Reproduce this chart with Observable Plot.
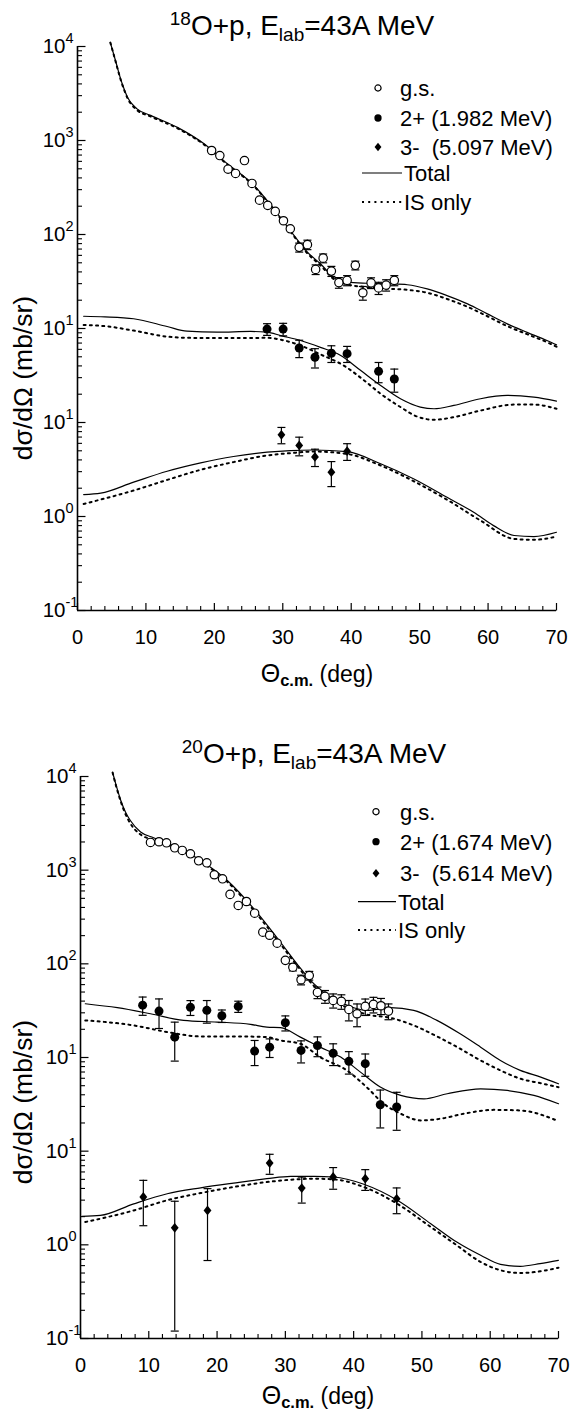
<!DOCTYPE html>
<html>
<head>
<meta charset="utf-8">
<script src="https://cdn.jsdelivr.net/npm/d3@7"></script>
<script src="https://cdn.jsdelivr.net/npm/@observablehq/plot@0.6"></script>
<style>
  html, body { margin: 0; padding: 0; background: #fff; }
  #root { position: relative; width: 570px; height: 1418px; }
  #root svg { display: block; }
</style>
</head>
<body>
<div id="root"></div>
<script>
// ---------------- DATA (values in axis units of the stacked log axis) ----------------
// Panel 1: 18O+p
const p1_gsX   = [19.6, 20.8, 22.0, 23.1, 24.4, 25.5, 26.6, 27.8, 28.9, 30.1, 31.1, 32.4, 33.6, 34.8, 35.9, 37.1, 38.2, 39.4, 40.6, 41.7, 42.9, 44.0, 45.1, 46.3];
const p1_gsY   = [783, 692, 495, 446, 612, 349, 232, 204, 176, 140, 115, 73, 78, 42.5, 56, 40.8, 30.8, 32.5, 47, 24, 30.6, 27, 29, 32.5];
const p1_gsErr = [0, 0, 0, 0, 0, 0, 0, 0, 0, 0, 0, 8, 9, 5, 6, 5, 4, 4, 5, 4, 4, 4, 4, 4];
const p1_twoX   = [27.7, 30.05, 32.4, 34.7, 37.1, 39.4, 44.0, 46.3];
const p1_twoY   = [9.85, 9.85, 6.2, 4.95, 5.45, 5.4, 3.5, 2.9];
const p1_twoErr = [1.4, 1.5, 1.3, 1.15, 1.1, 1.05, 0.85, 0.8];
const p1_thrX   = [29.8, 32.4, 34.7, 37.1, 39.4];
const p1_thrY   = [0.74, 0.57, 0.43, 0.296, 0.495];
const p1_thrErr = [0.146, 0.128, 0.09, 0.088, 0.10];

const p1_gsTotX = [4.8, 5.55, 6.3, 6.8, 7.3, 8.7, 10.7, 14.6, 18.5, 21.9, 25.8, 27.7, 31.1, 33.6, 35.5, 37.7, 39.4, 42.3, 45.7, 48.2, 51.1, 54.0, 57.0, 59.9, 62.8, 65.7, 68.6, 70];
const p1_gsTotY = [11000, 7100, 4530, 3550, 2890, 2170, 1850, 1380, 922, 565, 332, 230, 110, 65, 48.8, 33.8, 31.1, 30.3, 29.9, 29.2, 26.4, 22.4, 18.3, 14.3, 11.2, 9.1, 7.45, 6.7];
const p1_gsIsY  = [11000, 7000, 4450, 3480, 2830, 2110, 1800, 1350, 905, 555, 327, 226, 108, 63, 47, 32.5, 29.5, 27.5, 26.4, 25.8, 24.0, 20.6, 17.0, 13.5, 10.6, 8.7, 7.15, 6.4];
const p1_twoTotX = [0.9, 4, 8.2, 13.1, 16.0, 20.4, 25.3, 27.7, 29.7, 32.6, 35.5, 38.4, 41.4, 44.3, 47.2, 50.1, 52.1, 55.0, 58.9, 62.8, 66.7, 70];
const p1_twoTotY = [13.5, 13.3, 12.7, 10.5, 9.36, 9.14, 9.3, 9.14, 8.4, 7.45, 6.3, 5.2, 3.57, 2.48, 1.79, 1.46, 1.40, 1.52, 1.79, 1.94, 1.86, 1.69];
const p1_twoIsX  = [0.9, 4, 8.2, 13.1, 16.0, 20.4, 25.3, 27.7, 29.7, 32.6, 35.5, 38.9, 41.9, 44.3, 47.2, 49.6, 52.1, 55.0, 58.9, 63.8, 66.7, 70];
const p1_twoIsY  = [10.9, 10.6, 9.5, 8.2, 7.96, 7.9, 7.9, 7.96, 7.6, 6.6, 5.3, 4.04, 2.8, 2.02, 1.46, 1.16, 1.07, 1.14, 1.34, 1.55, 1.55, 1.40];
const p1_thrTotX = [0.9, 3.4, 8.2, 13.1, 18.0, 22.8, 27.7, 31.1, 34.5, 39.4, 44.3, 49.1, 54.0, 57.9, 60.8, 63.8, 66.7, 70];
const p1_thrTotY = [0.171, 0.177, 0.232, 0.303, 0.372, 0.435, 0.483, 0.503, 0.51, 0.49, 0.364, 0.252, 0.160, 0.111, 0.080, 0.0628, 0.0612, 0.068];
const p1_thrIsX  = [0.9, 8.2, 13.1, 18.0, 22.8, 27.7, 31.1, 34.5, 39.4, 44.3, 49.1, 54.0, 58.9, 63.8, 66.7, 70];
const p1_thrIsY  = [0.136, 0.189, 0.245, 0.314, 0.379, 0.446, 0.472, 0.491, 0.463, 0.349, 0.238, 0.151, 0.0906, 0.0578, 0.0565, 0.0612];

// Panel 2: 20O+p
const p2_gsX   = [10.25, 11.5, 12.6, 13.8, 14.9, 16.1, 17.3, 18.5, 19.6, 20.8, 21.9, 23.1, 24.3, 25.5, 26.7, 27.7, 28.8, 30.0, 31.1, 32.3, 33.5, 34.7, 35.8, 37.0, 38.2, 39.3, 40.5, 41.7, 42.9, 44.0, 45.1];
const p2_gsY   = [1977, 2010, 1960, 1734, 1623, 1496, 1259, 1199, 893, 809, 551, 420, 463, 347, 218, 202, 166, 109, 92, 67.6, 75, 49.5, 44.9, 40.7, 39.7, 32.6, 29.3, 35.1, 36.9, 35.7, 31.3];
const p2_gsErr = [0, 0, 0, 0, 0, 0, 0, 0, 0, 0, 0, 0, 0, 0, 0, 0, 0, 0, 8, 8, 8, 7, 7, 7, 7, 8, 8, 7, 7, 7, 6];
const p2_twoX   = [9.1, 11.5, 13.8, 16.1, 18.5, 20.7, 23.1, 25.5, 27.7, 30.0, 32.3, 34.7, 37.0, 39.3, 41.7, 43.9, 46.3];
const p2_twoY   = [36.2, 31.3, 16.5, 34.3, 31.9, 27.9, 35.1, 11.7, 12.9, 23.5, 11.9, 13.4, 11.1, 9.1, 8.6, 3.13, 2.96];
const p2_twoErr = [8, 10.9, 7.35, 6.2, 8.65, 4.25, 4.8, 3.5, 2.9, 4.3, 3.15, 3.2, 2.9, 2.45, 2.3, 1.36, 1.29];
const p2_thrX   = [9.2, 13.8, 18.6, 27.7, 32.4, 37.0, 41.7, 46.3];
const p2_thrY   = [0.324, 0.152, 0.233, 0.746, 0.404, 0.53, 0.508, 0.31];
const p2_thrErr = [0.164, 0.14, 0.165, 0.18, 0.125, 0.138, 0.127, 0.095];

const p2_gsTotX = [4.7, 5.3, 5.9, 6.6, 7.3, 8.8, 10.7, 14.2, 17.6, 21.5, 25.4, 29.3, 31.7, 34.2, 36.6, 39.1, 41.9, 45.4, 48.8, 52.2, 55.6, 58.6, 61.5, 64.4, 67.4, 70];
const p2_gsTotY = [11100, 7690, 5550, 4160, 3390, 2550, 2220, 1762, 1270, 776, 387, 170, 100, 61, 44, 36, 31.8, 34, 31.8, 24.9, 17.9, 12.9, 9.3, 7.28, 6.18, 5.24];
const p2_gsIsY  = [11000, 7500, 5400, 3950, 3150, 2400, 2100, 1700, 1230, 750, 370, 162, 96, 58, 42, 34, 28.8, 26.5, 22, 16.8, 12.4, 9.3, 7.28, 5.94, 5.31, 4.82];
const p2_twoTotX = [0.7, 5.4, 10.25, 15.1, 20.0, 24.9, 27.3, 29.3, 32.2, 35.1, 38.1, 41.0, 43.9, 46.9, 50.3, 53.7, 58.6, 62.5, 66.4, 70];
const p2_twoTotY = [37.5, 34, 29.3, 24.9, 23.9, 22.6, 21.1, 20.8, 16.5, 12.9, 10.1, 6.98, 4.83, 3.94, 3.62, 4.1, 4.63, 4.45, 3.94, 3.21];
const p2_twoIsX  = [0.7, 7.8, 12.7, 17.6, 22.5, 27.3, 29.3, 32.2, 35.1, 39.0, 41.9, 44.4, 46.9, 49.8, 52.7, 56.6, 60.5, 64.4, 70];
const p2_twoIsY  = [24.9, 22, 18.7, 16.8, 16.8, 16.5, 15.2, 14.0, 10.1, 7.28, 4.83, 3.21, 2.51, 2.13, 2.22, 2.55, 2.76, 2.72, 2.09];
const p2_thrTotX = [0.2, 2.9, 7.8, 12.7, 17.6, 22.4, 27.3, 30.8, 34.2, 37.1, 41.5, 46.4, 51.3, 55.1, 58.6, 61.5, 64.4, 67.3, 70];
const p2_thrTotY = [0.201, 0.206, 0.274, 0.351, 0.406, 0.456, 0.508, 0.538, 0.538, 0.53, 0.443, 0.299, 0.168, 0.107, 0.0773, 0.0619, 0.059, 0.063, 0.0684];
const p2_thrIsX  = [0.7, 7.8, 12.7, 17.6, 22.4, 27.3, 30.8, 34.2, 37.1, 41.5, 46.4, 51.3, 55.1, 58.6, 61.5, 64.4, 67.3, 70];
const p2_thrIsY  = [0.175, 0.233, 0.299, 0.357, 0.414, 0.468, 0.496, 0.508, 0.50, 0.414, 0.274, 0.155, 0.0989, 0.0656, 0.0535, 0.0501, 0.0521, 0.057];

// Axis: stacked log axis; positions and their printed exponents
const yTickPos = [1e4, 1e3, 1e2, 1e1, 1e0, 1e-1, 1e-2];
const yTickExp = ["4", "3", "2", "1", "1", "0", "-1"];
const xTickVals = [0, 10, 20, 30, 40, 50, 60, 70];

const panel1 = {
  titleMass: "18", legend2: "2+ (1.982 MeV)", legend3: "3-  (5.097 MeV)",
  gs: {x: p1_gsX, y: p1_gsY, e: p1_gsErr}, two: {x: p1_twoX, y: p1_twoY, e: p1_twoErr}, thr: {x: p1_thrX, y: p1_thrY, e: p1_thrErr},
  curves: [
    {x: p1_gsTotX, y: p1_gsTotY, dash: false}, {x: p1_gsTotX, y: p1_gsIsY, dash: true},
    {x: p1_twoTotX, y: p1_twoTotY, dash: false}, {x: p1_twoIsX, y: p1_twoIsY, dash: true},
    {x: p1_thrTotX, y: p1_thrTotY, dash: false}, {x: p1_thrIsX, y: p1_thrIsY, dash: true}
  ]
};
const panel2 = {
  titleMass: "20", legend2: "2+ (1.674 MeV)", legend3: "3-  (5.614 MeV)",
  gs: {x: p2_gsX, y: p2_gsY, e: p2_gsErr}, two: {x: p2_twoX, y: p2_twoY, e: p2_twoErr}, thr: {x: p2_thrX, y: p2_thrY, e: p2_thrErr},
  curves: [
    {x: p2_gsTotX, y: p2_gsTotY, dash: false}, {x: p2_gsTotX, y: p2_gsIsY, dash: true},
    {x: p2_twoTotX, y: p2_twoTotY, dash: false}, {x: p2_twoIsX, y: p2_twoIsY, dash: true},
    {x: p2_thrTotX, y: p2_thrTotY, dash: false}, {x: p2_thrIsX, y: p2_thrIsY, dash: true}
  ]
};

// ---------------- helpers ----------------
const FONT = "Liberation Sans, Arial, Helvetica, sans-serif";
const zip = s => s.x.map((x, i) => ({x, y: s.y[i], e: s.e ? s.e[i] : 0}));
const capSym = {draw(ctx, size) { const r = Math.sqrt(size / Math.PI); ctx.moveTo(-r, 0); ctx.lineTo(r, 0); }};
const tickRight = {draw(ctx, size) { const r = Math.sqrt(size / Math.PI); ctx.moveTo(0, 0); ctx.lineTo(r, 0); }};
const tickUp = {draw(ctx, size) { const r = Math.sqrt(size / Math.PI); ctx.moveTo(0, 0); ctx.lineTo(0, -r); }};
const rhombus = {draw(ctx, size) { const r = Math.sqrt(size / Math.PI); const w = r * 0.8;
  ctx.moveTo(0, -r); ctx.lineTo(w, 0); ctx.lineTo(0, r); ctx.lineTo(-w, 0); ctx.closePath(); }};
const yMinor = d3.range(-2, 4).flatMap(e => d3.range(2, 10).map(m => m * Math.pow(10, e)));
const xAll = d3.range(0, 71, 2);
const xMinor = xAll.filter(v => v % 10 !== 0);
const yLabels = yTickPos.map((v, i) => ({v, exp: yTickExp[i]}));

function makePanel(P, geom) {
  const gs = zip(P.gs), two = zip(P.two), thr = zip(P.thr);
  const errs = [...gs, ...two, ...thr].filter(d => d.e > 0);
  const marks = [];
  // curves
  P.curves.forEach(c => {
    const data = c.x.map((x, i) => ({x, y: c.y[i]}));
    marks.push(Plot.line(data, {x: "x", y: "y", curve: "monotone-x", stroke: "black",
      strokeWidth: c.dash ? 2 : 1.2, strokeDasharray: c.dash ? "2,4.2" : null}));
  });
  // error bars
  marks.push(Plot.ruleX(errs, {x: "x", y1: d => d.y - d.e, y2: d => d.y + d.e, stroke: "black", strokeWidth: 1.2}));
  marks.push(Plot.dot(errs, {x: "x", y: d => d.y + d.e, symbol: capSym, r: 4, stroke: "black", strokeWidth: 1.2}));
  marks.push(Plot.dot(errs, {x: "x", y: d => d.y - d.e, symbol: capSym, r: 4, stroke: "black", strokeWidth: 1.2}));
  // data points
  marks.push(Plot.dot(gs, {x: "x", y: "y", r: 4.2, fill: "white", stroke: "black", strokeWidth: 1.2}));
  marks.push(Plot.dot(two, {x: "x", y: "y", r: 4.5, fill: "black", stroke: "none"}));
  marks.push(Plot.dot(thr, {x: "x", y: "y", r: 4.9, symbol: rhombus, fill: "black", stroke: "none"}));
  // axes
  marks.push(Plot.ruleX([0], {stroke: "black", strokeWidth: 1.6}));
  marks.push(Plot.ruleY([1e-2], {stroke: "black", strokeWidth: 1.6}));
  marks.push(Plot.dot(yTickPos, {y: d => d, frameAnchor: "left", symbol: tickRight, r: 8, stroke: "black", strokeWidth: 1.2}));
  marks.push(Plot.dot(yMinor, {y: d => d, frameAnchor: "left", symbol: tickRight, r: 4.5, stroke: "black", strokeWidth: 1.1}));
  marks.push(Plot.dot(xTickVals, {x: d => d, frameAnchor: "bottom", symbol: tickUp, r: 7.5, stroke: "black", strokeWidth: 1.2}));
  marks.push(Plot.dot(xMinor, {x: d => d, frameAnchor: "bottom", symbol: tickUp, r: 4.5, stroke: "black", strokeWidth: 1.1}));
  marks.push(Plot.text(yLabels, {y: "v", text: () => "10", frameAnchor: "left", textAnchor: "end", dx: -12, fontSize: 20.5, fontFamily: FONT, fill: "black"}));
  marks.push(Plot.text(yLabels, {y: "v", text: "exp", frameAnchor: "left", textAnchor: "start", dx: -12, dy: -8, fontSize: 14.5, fontFamily: FONT, fill: "black"}));
  marks.push(Plot.text(xTickVals, {x: d => d, text: d => String(d), frameAnchor: "bottom", dy: 33, fontSize: 20, fontFamily: FONT, fill: "black"}));

  const svg = Plot.plot({
    width: 570, height: geom.height,
    marginLeft: geom.ml, marginRight: geom.mr, marginTop: geom.mt, marginBottom: geom.mb,
    x: {domain: [0, 70], axis: null},
    y: {type: "log", domain: [1e-2, 1e4], axis: null},
    style: {fontFamily: FONT, background: "white", color: "black", overflow: "visible"},
    marks
  });

  const s = d3.select(svg);
  // Title
  const t = s.append("text").attr("x", geom.titleX).attr("y", geom.titleY).attr("text-anchor", "middle")
    .attr("font-family", FONT).attr("fill", "black");
  t.append("tspan").attr("font-size", 19).attr("dy", -10).text(P.titleMass);
  t.append("tspan").attr("font-size", 28).attr("dy", 10).text("O+p, E");
  t.append("tspan").attr("font-size", 19).attr("dy", 6).text("lab");
  t.append("tspan").attr("font-size", 28).attr("dy", -6).text("=43A MeV");

  // Legend
  const L = geom.legend;
  const lg = s.append("g").attr("font-family", FONT).attr("font-size", 22).attr("fill", "black").attr("text-anchor", "start");
  const sym = (type, size) => d3.symbol().type(type).size(size)();
  lg.append("path").attr("d", sym(d3.symbolCircle, 30)).attr("transform", `translate(${L.mx},${L.rows[0]})`).attr("fill", "white").attr("stroke", "black").attr("stroke-width", 1.2);
  lg.append("path").attr("d", sym(d3.symbolCircle, 42)).attr("transform", `translate(${L.mx},${L.rows[1]})`).attr("fill", "black");
  lg.append("path").attr("d", sym(rhombus, Math.PI * 4.3 * 4.3)).attr("transform", `translate(${L.mx},${L.rows[2]})`).attr("fill", "black");
  const texts = ["g.s.", P.legend2, P.legend3];
  texts.forEach((tx, i) => lg.append("text").attr("x", L.tx).attr("y", L.rows[i]).attr("dy", "0.36em").attr("text-anchor", "start").style("white-space", "pre").text(tx));
  lg.append("line").attr("x1", L.l1).attr("x2", L.l2).attr("y1", L.rows[3]).attr("y2", L.rows[3]).attr("stroke", "black").attr("stroke-width", 1.2);
  lg.append("line").attr("x1", L.l1).attr("x2", L.l2).attr("y1", L.rows[4]).attr("y2", L.rows[4]).attr("stroke", "black").attr("stroke-width", 2).attr("stroke-dasharray", "2,4.2");
  lg.append("text").attr("x", L.l2 + 2).attr("y", L.rows[3]).attr("dy", "0.36em").attr("text-anchor", "start").text("Total");
  lg.append("text").attr("x", L.l2 + 2).attr("y", L.rows[4]).attr("dy", "0.36em").attr("text-anchor", "start").text("IS only");

  // Axis titles
  const xl = s.append("text").attr("x", geom.xlabX).attr("y", geom.xlabY).attr("text-anchor", "middle").attr("font-family", FONT).attr("fill", "black");
  xl.append("tspan").attr("font-size", 25).text("Θ");
  xl.append("tspan").attr("font-size", 16.5).attr("font-weight", "bold").attr("dy", 4).text("c.m.");
  xl.append("tspan").attr("font-size", 23).attr("dy", -4).text(" (deg)");
  s.append("text").attr("transform", `translate(${geom.ylabX},${geom.ylabY}) rotate(-90)`).attr("text-anchor", "middle")
    .attr("font-family", FONT).attr("font-size", 26.5).attr("fill", "black").text("dσ/dΩ (mb/sr)");
  return svg;
}

const root = document.getElementById("root");
const svg1 = makePanel(panel1, {height: 700, ml: 77, mr: 14, mt: 46, mb: 90, titleX: 302, titleY: 35,
  legend: {mx: 378, tx: 400, rows: [88, 118, 147, 173, 202], l1: 362, l2: 402},
  xlabX: 317, xlabY: 682, ylabX: 32, ylabY: 378});
const svg2 = makePanel(panel2, {height: 718, ml: 80, mr: 12, mt: 76, mb: 80, titleX: 314, titleY: 63,
  legend: {mx: 376, tx: 400, rows: [111.7, 141.7, 173.3, 201.7, 230], l1: 358, l2: 396},
  xlabX: 318, xlabY: 704, ylabX: 32, ylabY: 402});
root.appendChild(svg1);
root.appendChild(svg2);
</script>
</body>
</html>
